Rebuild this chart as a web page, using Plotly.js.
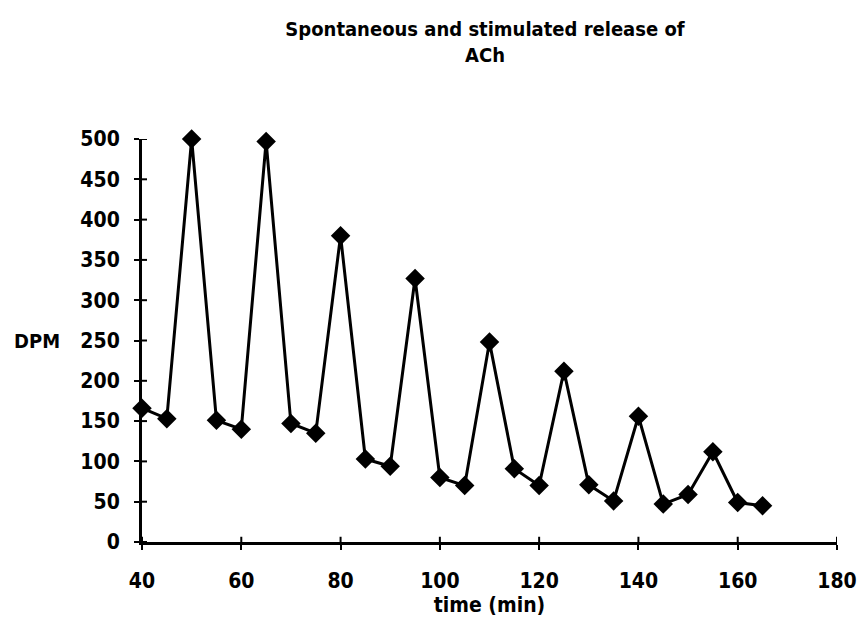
<!DOCTYPE html>
<html><head><meta charset="utf-8">
<script src="https://cdn.plot.ly/plotly-3.0.1.min.js"></script>
<style>body{margin:0;background:#fff}#chart{width:863px;height:618px}</style>
</head><body><div id="chart"></div>
<script>
const timeMin = [40,45,50,55,60,65,70,75,80,85,90,95,100,105,110,115,120,125,130,135,140,145,150,155,160,165];
const dpm = [166,153,500,151,140,497,147,135,380,103,94,327,80,70,248,91,70,212,71,51,156,47,59,112,49,45];
const xTicks = [40,60,80,100,120,140,160,180];
const yTicks = [0,50,100,150,200,250,300,350,400,450,500];

const fam = '"DejaVu Sans Condensed", "DejaVu Sans", sans-serif';
const f = (s, w) => ({family:fam, size:s, color:'#000', weight:w||'bold'});
const axBase = {showgrid:false, zeroline:false, tickcolor:'#000', tickwidth:2, ticklen:5, ticks:'outside',
  showline:true, linecolor:'#000', linewidth:3};
// inner halves of the crossing tick marks
const tickShapes = xTicks.map(v => ({type:'line', xref:'x', yref:'paper', x0:v, x1:v, y0:0, y1:0.013, line:{color:'#000', width:2}}))
  .concat(yTicks.map(v => ({type:'line', xref:'paper', yref:'y', x0:0, x1:0.0072, y0:v, y1:v, line:{color:'#000', width:2}})));
Plotly.newPlot('chart', [{
  x: timeMin, y: dpm, type:'scatter', mode:'lines+markers', cliponaxis:false,
  line:{color:'#000', width:3},
  marker:{symbol:'diamond', size:15, color:'#000'}
}], {
  width:863, height:618,
  margin:{l:142, r:26, t:139, b:76},
  paper_bgcolor:'#fff', plot_bgcolor:'#fff',
  showlegend:false,
  title:{text:'Spontaneous and stimulated release of<br>ACh', x:0.562, xanchor:'center', y:0.942, yanchor:'middle', font:f(20)},
  xaxis:Object.assign({}, axBase, {range:[40,180], tickvals:xTicks, tickfont:f(21), ticklabelstandoff:13,
    title:{text:'time (min)', font:f(21), standoff:2}}),
  yaxis:Object.assign({}, axBase, {range:[0,500], tickvals:yTicks, tickfont:f(21), ticklabelstandoff:10}),
  shapes: tickShapes,
  annotations:[{text:'DPM', xref:'paper', yref:'paper', x:-0.115, y:0.5, xanchor:'right', yanchor:'middle', showarrow:false, font:f(20)}]
}, {displayModeBar:false, staticPlot:true});
</script></body></html>
